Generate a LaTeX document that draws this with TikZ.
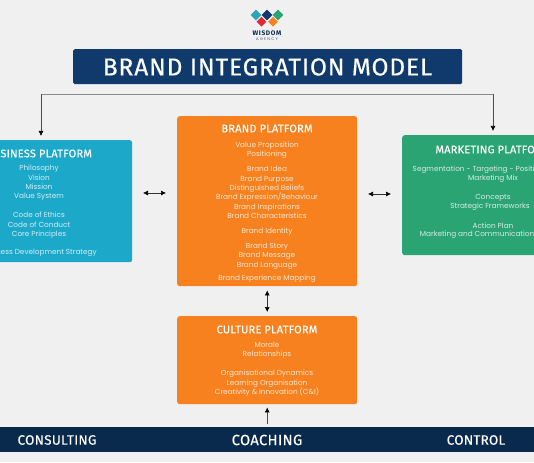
\documentclass[tikz,border=0pt]{standalone}
\usepackage{fontspec}
\setmainfont{Poppins}
\newfontfamily\headfont[FakeBold=0.15,LetterSpace=2]{Fira Sans}
\newfontfamily\titlefont[FakeBold=0.4,LetterSpace=3.5]{Fira Sans}
\newfontfamily\wisdomfont[LetterSpace=10]{Fira Sans}
\definecolor{pagebg}{HTML}{F0F0F1}
\definecolor{titlebar}{HTML}{0F3A6B}
\definecolor{footbar}{HTML}{0A2A4D}
\definecolor{bluebox}{HTML}{1CA9C9}
\definecolor{greenbox}{HTML}{2BA473}
\definecolor{orangebox}{HTML}{F7811F}
\definecolor{gemteal}{HTML}{2AA6B8}
\definecolor{gemred}{HTML}{DD2B35}
\tikzset{
  panel/.style={rounded corners=2.5pt,inner sep=0pt,anchor=north west},
  head/.style={font=\headfont\fontsize{11}{13}\selectfont,text=white,inner sep=0pt},
  body/.style={font=\fontsize{7.3}{9.35}\selectfont,text=white,opacity=.8,align=center,inner sep=0pt},
  foot/.style={font=\headfont\fontsize{13.5}{15}\selectfont,text=white,inner sep=0pt},
  link/.style={draw=black!70,line width=.7pt,-{Latex[length=5pt,width=5pt,color=black]}},
  twoway/.style={draw=black!80,line width=.6pt,{Latex[length=5pt,width=5pt,color=black]}-{Latex[length=5pt,width=5pt,color=black]}},
  gem/.style={diamond,aspect=1,minimum size=11pt,inner sep=0pt},
}
\usetikzlibrary{arrows.meta,shapes.geometric}
\begin{document}
\begin{tikzpicture}[x=1pt,y=-1pt]
\useasboundingbox (0,0) rectangle (534,462);
\clip (0,0) rectangle (534,462);
\fill[pagebg] (0,0) rectangle (534,462);
% logo
\node[gem,fill=gemteal] (g1) at (256,15) {};
\node[gem,fill=greenbox] (g3) at (278,15) {};
\node[gem,fill=titlebar] (g2) at (267,15) {};
\node[gem,fill=gemred,minimum size=10pt] (g4) at (261.5,21.7) {};
\node[gem,fill=orangebox,minimum size=10pt] (g5) at (273,21.7) {};
\node[font=\wisdomfont\fontsize{6.6}{7}\selectfont\bfseries,text=footbar,inner sep=0pt] (wisdom) at (267,33) {WISDOM};
\node[font=\fontsize{3.8}{5}\selectfont,text=footbar!80,inner sep=0pt] (agency) at (267,39) {A\,\,G\,\,E\,\,N\,\,C\,\,Y};
% title
\node[panel,fill=titlebar,minimum width=389pt,minimum height=35pt,rounded corners=1.5pt] (title) at (73,49) {};
\node[font=\titlefont\fontsize{24.5}{28}\selectfont,text=white,inner sep=0pt] (titletext) at (267.5,67) {BRAND INTEGRATION MODEL};
% panels
\node[panel,fill=bluebox,minimum width=182pt,minimum height=122pt] (business) at (-50,140) {};
\node[panel,fill=orangebox,minimum width=180pt,minimum height=170pt] (brand) at (177,116) {};
\node[panel,fill=greenbox,minimum width=182pt,minimum height=120pt] (marketing) at (402,135) {};
\node[panel,fill=orangebox,minimum width=180pt,minimum height=88pt] (culture) at (177,316) {};
\node[panel,fill=footbar,minimum width=534pt,minimum height=25pt,rounded corners=0pt] (footer) at (0,427) {};
% connectors
\coordinate (bizin) at (41,94);
\coordinate (mktin) at (493,94);
\draw[draw=black!45,line width=.8pt] (bizin) -- (mktin);
\draw[link] (bizin) -- ([yshift=4pt]business.north -| bizin);
\draw[link] (mktin) -- ([yshift=4pt]marketing.north -| mktin);
\coordinate (a1) at (143,193); \coordinate (a2) at (166,193);
\coordinate (b1) at (368,194); \coordinate (b2) at (391,194);
\draw[twoway] (a1) -- (a2);
\draw[twoway] (b1) -- (b2);
\draw[twoway] ([yshift=-4pt]brand.south) -- ([yshift=4pt]culture.north);
\draw[link] ([yshift=3pt]footer.north -| culture.south) -- ([yshift=-3pt]culture.south);
% business
\node[head] (bizhead) at (39,153.5) {BUSINESS PLATFORM};
\node[body] (biz1) at (39,183) {Philosophy\\Vision\\Mission\\Value System};
\node[body] (biz2) at (39,225.5) {Code of Ethics\\Code of Conduct\\Core Principles};
\node[body] (biz3) at (39,253) {Business Development Strategy};
% brand
\node[head] (brhead) at (267,128.5) {BRAND PLATFORM};
\node[body] (br1) at (267,150.5) {Value Proposition\\Positioning};
\node[body] (br2) at (267,192.5) {Brand Idea\\Brand Purpose\\Distinguished Beliefs\\Brand Expression/Behaviour\\Brand Inspirations\\Brand Characteristics};
\node[body] (br3) at (267,232) {Brand Identity};
\node[body] (br4) at (267,256) {Brand Story\\Brand Message\\Brand Language};
\node[body] (br5) at (267,279) {Brand Experience Mapping};
% marketing
\node[head] (mkhead) at (493,149.5) {MARKETING PLATFORM};
\node[body] (mk1a) at (484,170) {Segmentation - Targeting - Positioning};
\node[body] (mk1b) at (493,179) {Marketing Mix};
\node[body] (mk2a) at (493,198) {Concepts};
\node[body] (mk2b) at (490,207) {Strategic Frameworks};
\node[body] (mk3a) at (493,226) {Action Plan};
\node[body] (mk3b) at (479,235) {Marketing and Communications};
% culture
\node[head] (cuhead) at (267,329.5) {CULTURE PLATFORM};
\node[body] (cu1) at (267,350.5) {Morale\\Relationships};
\node[body] (cu2) at (267,383.5) {Organisational Dynamics\\Learning Organisation\\Creativity \& Innovation (C\&I)};
% footer
\node[foot] (f1) at (57,440) {CONSULTING};
\node[foot,font=\headfont\fontsize{14.8}{16}\selectfont] (f2) at (267,440) {COACHING};
\node[foot] (f3) at (476,440) {CONTROL};
\end{tikzpicture}
\end{document}
